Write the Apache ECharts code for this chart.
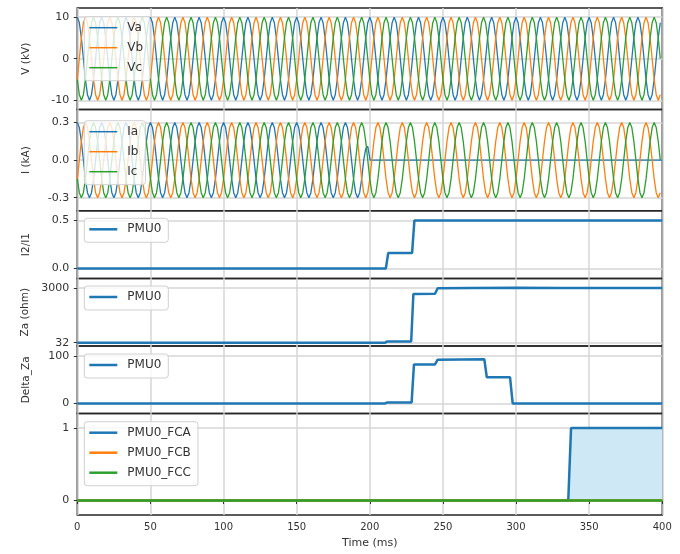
<!DOCTYPE html>
<html>
<head>
<meta charset="utf-8">
<script src="https://cdn.jsdelivr.net/npm/echarts@6/dist/echarts.min.js"></script>
<style>
  html, body { margin: 0; padding: 0; background: #fff; }
  #chart { width: 680px; height: 554px; }
</style>
</head>
<body>
<div id="chart"></div>
<script>
// one 60 Hz cycle per phase, 12 samples (peaks at +/-10 kV, +/-0.3 kA)
const vaCycle = [10, 8.66, 5, 0, -5, -8.66, -10, -8.66, -5, 0, 5, 8.66];
const vbCycle = [-5, 0, 5, 8.66, 10, 8.66, 5, 0, -5, -8.66, -10, -8.66];
const vcCycle = [-5, -8.66, -10, -8.66, -5, 0, 5, 8.66, 10, 8.66, 5, 0];
const iaCycle = [0.3, 0.26, 0.15, 0, -0.15, -0.26, -0.3, -0.26, -0.15, 0, 0.15, 0.26];
const ibCycle = [-0.15, 0, 0.15, 0.26, 0.3, 0.26, 0.15, 0, -0.15, -0.26, -0.3, -0.26];
const icCycle = [-0.15, -0.26, -0.3, -0.26, -0.15, 0, 0.15, 0.26, 0.3, 0.26, 0.15, 0];
const cycleCount = 24;       // 24 cycles in 400 ms
const iaTripAt = 196;        // Ia follows the wave up to here ...
const iaAfterTrip = [[197.2, 0.09], [198.6, 0.11], [200.2, 0], [400, 0]];  // ... then drops out

// PMU outputs [time ms, value]
const i2i1 = [[0, 0], [211, 0], [212.6, 0.16], [228.9, 0.16], [230.5, 0.5], [400, 0.5]];
const za = [[0, 32], [210.5, 32], [212, 100], [228.3, 100], [229.8, 2680], [244.6, 2690], [246.4, 2985],
            [270, 3005], [300, 3010], [330, 3005], [360, 3000], [380, 3002], [400, 3000]];
const deltaZa = [[0, 0], [210.5, 0], [212, 2], [228.6, 2], [230.2, 82], [244.6, 82], [246.4, 92],
                 [278.3, 93], [280, 55], [295.9, 55], [297.7, 0], [400, 0]];
const fca = [[0, 0], [335.7, 0], [337.6, 1], [400, 1]];
const fcb = [[0, 0], [400, 0]];
const fcc = [[0, 0], [400, 0]];

const C_BLUE = '#1f77b4', C_ORANGE = '#ff7f0e', C_GREEN = '#2ca02c';

function tile(cycle, untilMs) {
  const step = (1000 / 60) / cycle.length;
  const out = [];
  for (let k = 0; k <= cycleCount * cycle.length; k++) {
    const t = k * step;
    if (t > untilMs) break;
    out.push([t, cycle[k % cycle.length]]);
  }
  return out;
}

const chart = echarts.init(document.getElementById('chart'));

const panels = [
  { top: 8,     height: 101.4, min: -12.2, max: 12.2,  ticks: [-10, 0, 10],    name: 'V (kV)',   fmt: v => String(v) },
  { top: 109.4, height: 101.4, min: -0.405, max: 0.405, ticks: [-0.3, 0, 0.3], name: 'I (kA)',   fmt: v => v.toFixed(1) },
  { top: 210.8, height: 67.6,  min: -0.104, max: 0.6,  ticks: [0, 0.5],        name: 'I2/I1',    fmt: v => v.toFixed(1) },
  { top: 278.4, height: 67.6,  min: -148, max: 3524,   ticks: [32, 3000],      name: 'Za (ohm)', fmt: v => String(v) },
  { top: 346,   height: 67.6,  min: -21.5, max: 120.8, ticks: [0, 100],        name: 'Delta_Za', fmt: v => String(v) },
  { top: 413.6, height: 101.4, min: -0.2, max: 1.2,    ticks: [0, 1],          name: '',         fmt: v => String(v) }
];
const legendTops = [16.7, 120.7, 218.3, 286, 354, 421.7];
const FONT = 'DejaVu Sans';
const gridColor = '#d6d6d6';

const grids = panels.map(p => ({
  left: 77.3, right: 17.7, top: p.top, height: p.height,
  show: true, borderColor: '#262626', borderWidth: 1.5
}));

const xAxes = panels.map((p, i) => {
  const last = i === panels.length - 1;
  return {
    type: 'value', gridIndex: i, min: 0, max: 400, interval: 50,
    axisLine: { show: false },
    axisTick: { show: last, length: 3.5, lineStyle: { color: '#333' } },
    axisLabel: { show: last, fontSize: 10, margin: 7, color: '#333', fontFamily: FONT },
    splitLine: { show: true, lineStyle: { color: gridColor, width: 1.5 } },
    name: last ? 'Time (ms)' : '',
    nameLocation: 'middle', nameGap: 23,
    nameTextStyle: { fontSize: 11, color: '#333', fontFamily: FONT }
  };
});

const yAxes = panels.map((p, i) => ({
  type: 'value', gridIndex: i, min: p.min, max: p.max,
  axisLine: { show: false },
  axisTick: { show: true, length: 3.5, lineStyle: { color: '#333' }, customValues: p.ticks },
  axisLabel: { customValues: p.ticks, formatter: p.fmt, fontSize: 11, margin: 8, color: '#333', fontFamily: FONT },
  splitLine: { show: true, lineStyle: { color: gridColor, width: 1.5 } },
  name: p.name, nameLocation: 'middle', nameGap: 46,
  nameTextStyle: { fontSize: 10.5, color: '#333', fontFamily: FONT }
}));

function line(name, data, color, idx, width, extra) {
  return Object.assign({
    name: name, type: 'line', xAxisIndex: idx, yAxisIndex: idx, data: data,
    showSymbol: false, symbol: 'none', animation: false,
    itemStyle: { color: color },
    lineStyle: { color: color, width: width }
  }, extra || {});
}

const series = [
  line('Va', tile(vaCycle, 400), C_BLUE, 0, 1.3),
  line('Vb', tile(vbCycle, 400), C_ORANGE, 0, 1.3),
  line('Vc', tile(vcCycle, 400), C_GREEN, 0, 1.3),
  line('Ia', tile(iaCycle, iaTripAt).concat(iaAfterTrip), C_BLUE, 1, 1.3),
  line('Ib', tile(ibCycle, 400), C_ORANGE, 1, 1.3),
  line('Ic', tile(icCycle, 400), C_GREEN, 1, 1.3),
  line('PMU0', i2i1, C_BLUE, 2, 2.5),
  line('PMU0', za, C_BLUE, 3, 2.5),
  line('PMU0', deltaZa, C_BLUE, 4, 2.5),
  line('PMU0_FCA', fca, C_BLUE, 5, 2.5, { areaStyle: { color: '#cfe8f5', opacity: 1, origin: 0 } }),
  line('PMU0_FCB', fcb, C_ORANGE, 5, 2.5),
  line('PMU0_FCC', fcc, C_GREEN, 5, 2.5)
];

const legendNames = [['Va', 'Vb', 'Vc'], ['Ia', 'Ib', 'Ic'], ['PMU0'], ['PMU0'], ['PMU0'],
                     ['PMU0_FCA', 'PMU0_FCB', 'PMU0_FCC']];
const legends = legendNames.map((names, i) => ({
  data: names, orient: 'vertical', left: 84.3, top: legendTops[i],
  icon: 'rect', itemWidth: 28, itemHeight: i < 2 ? 1.5 : 2.5, itemGap: 6,
  padding: [4, 7, 6, 5],
  backgroundColor: 'rgba(255,255,255,0.8)', borderColor: '#d0d0d0', borderWidth: 1, borderRadius: 3,
  selectedMode: false,
  textStyle: { fontSize: 12, lineHeight: 14, color: '#333', fontFamily: FONT, padding: [0, 0, 0, 5] }
}));

chart.setOption({
  animation: false,
  backgroundColor: '#fff',
  grid: grids,
  xAxis: xAxes,
  yAxis: yAxes,
  legend: legends,
  series: series
});

window.addEventListener('resize', function() {
  chart.resize();
});
</script>
</body>
</html>
